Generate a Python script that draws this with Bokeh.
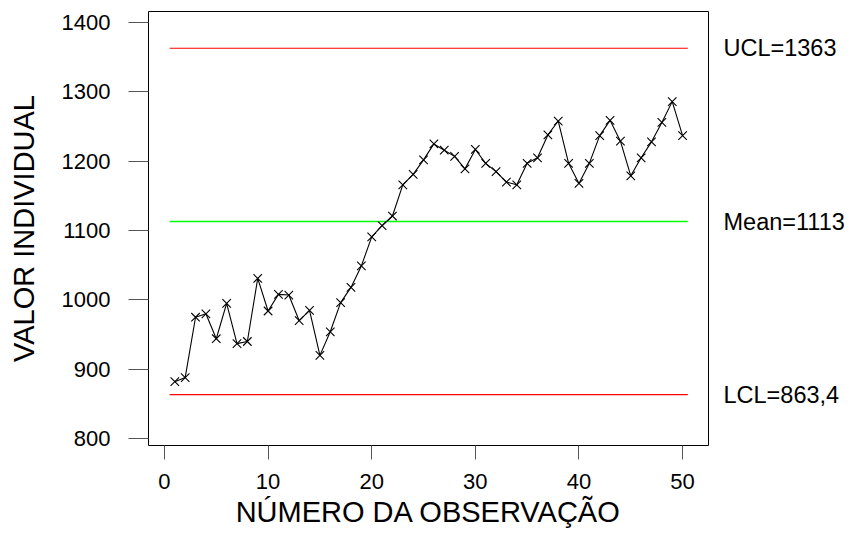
from bokeh.plotting import figure
from bokeh.models import Range1d, FixedTicker, ColumnDataSource, LinearAxis
from bokeh.embed import file_html
from bokeh.resources import INLINE

# ---- data ----
obs = list(range(1, 51))
values = [882, 888, 975, 980, 944, 995, 937, 940, 1031, 984,
          1008, 1007, 970, 985, 920, 954, 996, 1018, 1049, 1091,
          1107, 1121, 1166, 1181, 1202, 1225, 1216, 1207, 1189, 1217,
          1197, 1185, 1170, 1166, 1197, 1205, 1238, 1258, 1197, 1168,
          1197, 1237, 1259, 1229, 1179, 1205, 1228, 1256, 1286, 1237]
limit_values = [1363, 1113, 863.4]
limit_labels = ["UCL=1363", "Mean=1113", "LCL=863,4"]
limit_colors = ["#ff0000", "#00ff00", "#ff0000"]
x_ticks = [0, 10, 20, 30, 40, 50]
y_ticks = [800, 900, 1000, 1100, 1200, 1300, 1400]

FONT = "Liberation Sans"

p = figure(width=850, height=535, output_backend="svg", toolbar_location=None,
           x_range=Range1d(-1.54, 52.5), y_range=Range1d(790, 1416),
           min_border_left=148, min_border_right=142, min_border_top=11,
           min_border_bottom=90)
p.background_fill_color = "white"
p.border_fill_color = "white"
p.outline_line_color = "black"
p.outline_line_width = 1
p.xgrid.visible = False
p.ygrid.visible = False

# limit lines
x0 = obs[0] - 0.5
x1 = obs[-1] + 0.5
for v, c in zip(limit_values, limit_colors):
    p.segment(x0=x0, y0=v, x1=x1, y1=v, line_color=c,
              line_width=1.5 if c == "#00ff00" else 1.2)

src = ColumnDataSource(dict(x=obs, y=values))
p.line("x", "y", source=src, line_color="black", line_width=1.1)
p.scatter("x", "y", source=src, marker="x", size=12, line_color="black", line_width=1.1)

# right-side limit labels via an extra axis
raxis = LinearAxis(ticker=FixedTicker(ticks=limit_values),
                   major_label_overrides={v: t for v, t in zip(limit_values, limit_labels)})
raxis.axis_line_color = None
raxis.major_tick_line_color = None
raxis.minor_tick_line_color = None
raxis.major_tick_in = 0
raxis.major_tick_out = 0
raxis.major_label_standoff = 15
raxis.major_label_text_font = FONT
raxis.major_label_text_font_size = "23.5px"
raxis.major_label_text_color = "black"
p.add_layout(raxis, "right")

# axes
p.xaxis[0].ticker = FixedTicker(ticks=x_ticks)
p.yaxis[0].ticker = FixedTicker(ticks=y_ticks)
for ax in (p.xaxis[0], p.yaxis[0]):
    ax.minor_tick_line_color = None
    ax.axis_line_color = None
    ax.major_tick_in = 0
    ax.major_tick_line_color = "#555555"
    ax.major_label_text_font = FONT
    ax.major_label_text_font_size = "22px"
    ax.major_label_text_color = "black"
    ax.axis_label_text_font = FONT
    ax.axis_label_text_font_size = "29px"
    ax.axis_label_text_font_style = "normal"
    ax.axis_label_text_color = "black"
p.xaxis[0].major_tick_out = 14
p.yaxis[0].major_tick_out = 20
p.xaxis[0].major_label_standoff = 14
p.yaxis[0].major_label_standoff = 18
p.xaxis[0].axis_label = "NÚMERO DA OBSERVAÇÃO"
p.yaxis[0].axis_label = "VALOR INDIVIDUAL"
p.xaxis[0].axis_label_standoff = 4
p.yaxis[0].axis_label_standoff = 19

open("out.html", "w").write(file_html(p, INLINE))
